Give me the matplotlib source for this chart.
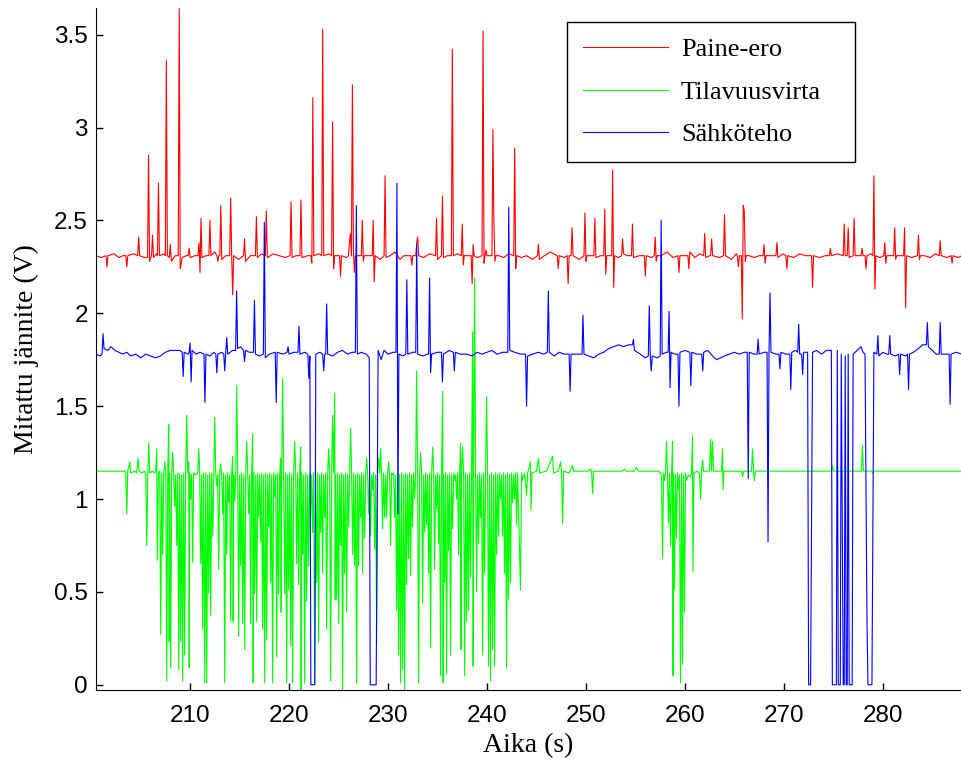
import matplotlib
matplotlib.use("Agg")

import matplotlib.pyplot as plt

paine_ero = [
    (200.5, 2.31), (201.0, 2.30), (201.5, 2.31), (201.6, 2.25), (201.7, 2.31), (202.3, 2.32), (202.8, 2.30),
    (203.2, 2.31), (203.5, 2.31), (203.6, 2.25), (203.7, 2.31), (204.3, 2.32), (204.7, 2.31), (204.8, 2.41),
    (204.9, 2.31), (205.4, 2.30), (205.7, 2.30), (205.8, 2.85), (205.9, 2.28), (206.1, 2.31), (206.2, 2.42),
    (206.3, 2.30), (206.6, 2.32), (206.7, 2.31), (206.8, 2.70), (206.9, 2.31), (207.4, 2.32), (207.5, 2.31),
    (207.6, 3.36), (207.7, 2.31), (207.9, 2.30), (208.0, 2.37), (208.1, 2.28), (208.5, 2.31), (208.8, 2.31),
    (208.9, 3.64), (209.0, 2.24), (209.2, 2.30), (209.6, 2.31), (209.8, 2.31), (209.9, 2.35), (210.0, 2.30),
    (210.5, 2.31), (210.8, 2.31), (210.9, 2.38), (211.0, 2.22), (211.1, 2.51), (211.2, 2.30), (211.6, 2.31),
    (211.9, 2.31), (212.0, 2.50), (212.1, 2.31), (212.5, 2.33), (212.7, 2.31), (212.8, 2.28), (212.9, 2.31),
    (213.0, 2.31), (213.1, 2.58), (213.2, 2.29), (213.6, 2.31), (214.0, 2.31), (214.1, 2.62), (214.2, 2.31),
    (214.3, 2.10), (214.4, 2.31), (214.9, 2.29), (215.4, 2.31), (215.5, 2.40), (215.6, 2.28), (216.1, 2.31),
    (216.6, 2.31), (216.7, 2.52), (216.8, 2.30), (217.2, 2.32), (217.6, 2.31), (217.7, 2.55), (217.8, 2.30),
    (218.4, 2.32), (219.0, 2.31), (219.6, 2.30), (220.1, 2.31), (220.2, 2.60), (220.3, 2.30), (220.7, 2.31),
    (221.1, 2.31), (221.2, 2.61), (221.3, 2.30), (221.9, 2.31), (222.2, 2.31), (222.3, 2.27), (222.4, 3.16),
    (222.5, 2.31), (223.0, 2.32), (223.3, 2.31), (223.4, 3.53), (223.5, 2.31), (224.0, 2.32), (224.3, 2.31),
    (224.4, 3.03), (224.5, 2.24), (224.6, 2.31), (224.8, 2.31), (225.1, 2.31), (225.2, 2.20), (225.3, 2.31),
    (225.8, 2.30), (226.0, 2.31), (226.1, 2.38), (226.2, 2.43), (226.3, 2.31), (226.4, 3.23), (226.5, 2.35),
    (226.6, 2.22), (226.7, 2.31), (227.3, 2.31), (227.4, 2.50), (227.5, 2.28), (227.6, 2.31), (228.0, 2.31),
    (228.4, 2.31), (228.5, 2.50), (228.6, 2.17), (228.7, 2.31), (229.2, 2.29), (229.6, 2.31), (229.7, 2.74),
    (229.8, 2.30), (230.2, 2.31), (230.7, 2.33), (231.2, 2.29), (231.6, 2.31), (232.3, 2.31), (232.4, 2.26),
    (232.5, 2.31), (232.8, 2.31), (232.9, 2.38), (233.0, 2.41), (233.1, 2.31), (233.6, 2.30), (234.2, 2.32),
    (234.8, 2.31), (234.9, 2.51), (235.0, 2.29), (235.4, 2.31), (235.5, 2.63), (235.6, 2.30), (236.0, 2.31),
    (236.4, 2.31), (236.5, 3.42), (236.6, 2.31), (237.0, 2.32), (237.4, 2.31), (237.5, 2.48), (237.6, 2.26),
    (237.7, 2.31), (238.0, 2.31), (238.4, 2.31), (238.5, 2.16), (238.6, 2.37), (238.7, 2.31), (239.0, 2.30),
    (239.5, 2.31), (239.6, 3.52), (239.7, 2.27), (239.8, 2.31), (239.9, 2.34), (240.0, 2.31), (240.2, 2.31),
    (240.5, 2.31), (240.6, 2.99), (240.7, 2.48), (240.8, 2.28), (240.9, 2.31), (241.2, 2.31), (241.7, 2.30),
    (242.2, 2.32), (242.7, 2.31), (242.8, 2.89), (242.9, 2.24), (243.0, 2.31), (243.5, 2.30), (244.0, 2.31),
    (244.6, 2.29), (245.1, 2.31), (245.2, 2.37), (245.3, 2.29), (245.8, 2.31), (246.4, 2.33), (247.1, 2.31),
    (247.2, 2.24), (247.3, 2.31), (247.8, 2.30), (248.1, 2.31), (248.2, 2.16), (248.3, 2.31), (248.5, 2.31),
    (248.6, 2.46), (248.7, 2.31), (249.3, 2.29), (249.8, 2.31), (249.9, 2.54), (250.0, 2.28), (250.1, 2.31),
    (250.4, 2.31), (250.8, 2.31), (250.9, 2.51), (251.0, 2.30), (251.5, 2.31), (251.8, 2.31), (251.9, 2.56),
    (252.0, 2.21), (252.1, 2.31), (252.6, 2.31), (252.7, 2.77), (252.8, 2.14), (252.9, 2.31), (253.3, 2.30),
    (253.6, 2.31), (253.7, 2.40), (253.8, 2.32), (254.2, 2.31), (254.6, 2.31), (254.7, 2.48), (254.8, 2.30),
    (255.4, 2.31), (255.9, 2.31), (256.0, 2.20), (256.1, 2.31), (256.6, 2.30), (256.9, 2.31), (257.0, 2.41),
    (257.1, 2.28), (257.2, 2.31), (257.6, 2.31), (258.2, 2.33), (258.8, 2.30), (259.3, 2.31), (259.4, 2.22),
    (259.5, 2.31), (259.9, 2.31), (260.3, 2.31), (260.4, 2.24), (260.5, 2.33), (261.0, 2.30), (261.5, 2.32),
    (261.9, 2.31), (262.0, 2.43), (262.1, 2.30), (262.5, 2.31), (262.6, 2.31), (262.7, 2.40), (262.8, 2.31),
    (263.5, 2.30), (263.9, 2.31), (264.0, 2.53), (264.1, 2.31), (264.7, 2.29), (265.2, 2.32), (265.3, 2.31),
    (265.4, 2.25), (265.5, 2.31), (265.7, 2.31), (265.8, 1.97), (265.9, 2.58), (266.0, 2.55), (266.1, 2.28),
    (266.2, 2.31), (266.5, 2.31), (267.0, 2.30), (267.5, 2.31), (267.9, 2.31), (268.0, 2.37), (268.1, 2.27),
    (268.2, 2.31), (268.6, 2.31), (269.2, 2.31), (269.3, 2.38), (269.4, 2.30), (269.9, 2.32), (270.2, 2.31),
    (270.3, 2.24), (270.4, 2.31), (271.0, 2.30), (271.6, 2.32), (272.2, 2.31), (272.8, 2.31), (272.9, 2.14),
    (273.0, 2.31), (273.6, 2.30), (274.2, 2.31), (274.6, 2.31), (274.7, 2.35), (274.8, 2.31), (275.4, 2.32),
    (276.0, 2.31), (276.1, 2.48), (276.2, 2.31), (276.4, 2.31), (276.5, 2.46), (276.6, 2.30), (277.0, 2.31),
    (277.1, 2.51), (277.2, 2.31), (277.8, 2.31), (277.9, 2.35), (278.0, 2.31), (278.2, 2.31), (278.3, 2.24),
    (278.4, 2.31), (278.8, 2.32), (279.0, 2.31), (279.1, 2.74), (279.2, 2.13), (279.3, 2.31), (279.7, 2.30),
    (280.1, 2.31), (280.2, 2.38), (280.3, 2.27), (280.4, 2.31), (280.7, 2.31), (281.1, 2.31), (281.2, 2.46),
    (281.3, 2.29), (281.4, 2.31), (281.7, 2.31), (282.1, 2.31), (282.2, 2.46), (282.3, 2.03), (282.4, 2.31),
    (282.9, 2.30), (283.5, 2.31), (283.6, 2.42), (283.7, 2.29), (283.8, 2.31), (284.2, 2.31), (284.8, 2.30),
    (285.3, 2.32), (285.7, 2.31), (285.8, 2.39), (285.9, 2.31), (286.5, 2.30), (286.9, 2.31), (287.0, 2.27),
    (287.1, 2.31), (287.6, 2.30), (288.0, 2.31),
]

tilavuusvirta = [
    (200.5, 1.15), (202.6, 1.15), (203.4, 1.15), (203.5, 1.14), (203.6, 0.92), (203.7, 1.15), (203.9, 1.20),
    (204.0, 1.14), (204.4, 1.15), (204.6, 1.14), (204.75, 1.22), (204.85, 1.15), (205.1, 1.14), (205.4, 1.15),
    (205.52, 1.13), (205.62, 0.75), (205.72, 1.14), (205.82, 1.30), (205.92, 1.14), (206.2, 1.15), (206.42, 1.14),
    (206.52, 1.15), (206.63, 1.27), (206.68, 0.67), (206.8, 1.14), (206.93, 1.15), (207.03, 0.27), (207.13, 1.14),
    (207.23, 0.70), (207.33, 1.14), (207.43, 1.20), (207.54, 1.14), (207.64, 0.02), (207.74, 1.14), (207.84, 1.40),
    (207.89, 0.23), (207.94, 1.14), (208.04, 0.09), (208.14, 1.15), (208.24, 1.25), (208.34, 1.14), (208.44, 0.96),
    (208.54, 1.13), (208.65, 0.75), (208.75, 1.14), (208.85, 0.08), (208.95, 1.14), (209.05, 0.23), (209.15, 1.13),
    (209.25, 0.02), (209.35, 1.14), (209.45, 0.16), (209.55, 1.14), (209.66, 1.45), (209.76, 1.14), (209.86, 1.20),
    (209.91, 0.09), (209.96, 1.14), (210.06, 1.00), (210.16, 1.13), (210.26, 0.66), (210.36, 1.14), (210.6, 1.13),
    (210.77, 1.14), (210.87, 1.27), (210.97, 1.14), (211.07, 0.65), (211.17, 1.13), (211.27, 0.30), (211.37, 1.14),
    (211.48, 0.01), (211.58, 1.14), (211.68, 0.01), (211.78, 1.13), (211.88, 0.49), (211.98, 1.14), (212.08, 0.37),
    (212.18, 1.14), (212.29, 0.80), (212.39, 1.13), (212.49, 1.44), (212.59, 1.14), (212.69, 1.07), (212.79, 1.13),
    (212.89, 0.62), (212.99, 1.14), (213.09, 1.19), (213.19, 1.13), (213.29, 0.92), (213.39, 1.14), (213.50, 0.01),
    (213.60, 1.13), (213.70, 0.70), (213.80, 1.14), (213.90, 0.98), (214.00, 1.13), (214.10, 0.34), (214.20, 1.14),
    (214.30, 1.23), (214.35, 0.34), (214.41, 1.13), (214.51, 0.99), (214.61, 1.14), (214.71, 1.61), (214.81, 1.14),
    (214.91, 0.26), (215.01, 1.13), (215.11, 0.64), (215.21, 1.14), (215.31, 0.33), (215.41, 1.13), (215.52, 0.19),
    (215.62, 1.14), (215.72, 1.31), (215.82, 1.14), (215.92, 0.92), (216.02, 1.13), (216.12, 0.33), (216.22, 1.14),
    (216.32, 1.35), (216.37, 0.01), (216.43, 1.14), (216.53, 0.49), (216.63, 1.13), (216.73, 0.34), (216.83, 1.14),
    (216.93, 0.90), (217.03, 1.13), (217.13, 0.77), (217.23, 1.14), (217.33, 0.30), (217.43, 1.13), (217.54, 0.01),
    (217.64, 1.14), (217.74, 0.24), (217.84, 1.13), (217.94, 0.85), (218.04, 1.14), (218.14, 0.55), (218.24, 1.13),
    (218.34, 0.01), (218.44, 1.14), (218.55, 1.01), (218.65, 1.13), (218.75, 0.15), (218.85, 1.14), (218.95, 0.49),
    (219.05, 1.13), (219.15, 1.22), (219.20, 0.39), (219.25, 1.14), (219.35, 1.65), (219.45, 1.13), (219.56, 0.49),
    (219.66, 1.14), (219.76, 0.01), (219.86, 1.13), (219.96, 0.51), (220.06, 1.14), (220.16, 0.21), (220.26, 1.13),
    (220.36, 0.01), (220.46, 1.14), (220.57, 1.31), (220.67, 1.13), (220.77, 0.65), (220.87, 1.14), (220.97, 0.54),
    (221.07, 1.13), (221.17, 1.28), (221.22, -0.04), (221.27, 1.14), (221.37, 0.70), (221.47, 1.13), (221.58, 0.01),
    (221.68, 1.14), (221.78, 0.45), (221.88, 1.13), (221.98, 0.64), (222.08, 1.14), (222.18, 0.90), (222.28, 1.13),
    (222.38, 0.82), (222.48, 1.14), (222.59, 0.01), (222.69, 1.13), (222.79, 0.55), (222.89, 1.14), (222.99, 0.23),
    (223.09, 1.13), (223.19, 0.82), (223.29, 1.14), (223.39, 0.60), (223.49, 1.13), (223.60, 0.90), (223.70, 1.14),
    (223.80, 0.30), (223.90, 1.13), (224.00, 1.27), (224.10, 1.14), (224.20, 0.02), (224.30, 1.13), (224.40, 1.45),
    (224.50, 1.14), (224.61, 1.57), (224.66, 0.46), (224.71, 1.13), (224.81, 0.46), (224.91, 1.14), (225.01, 0.33),
    (225.11, 1.13), (225.21, 0.75), (225.31, 1.14), (225.41, -0.04), (225.51, 1.13), (225.61, 0.60), (225.71, 1.14),
    (225.82, 0.39), (225.92, 1.13), (226.02, 0.85), (226.12, 1.14), (226.22, 1.38), (226.32, 1.13), (226.43, 0.70),
    (226.53, 1.14), (226.63, 0.64), (226.73, 1.13), (226.83, 0.01), (226.93, 1.14), (227.03, 0.64), (227.13, 1.13),
    (227.23, 0.90), (227.33, 1.14), (227.43, 0.60), (227.53, 1.13), (227.64, 0.79), (227.74, 1.14), (227.84, 1.22),
    (227.94, 1.13), (228.04, 0.92), (228.14, 1.14), (228.24, 0.80), (228.34, 1.13), (228.44, 1.05), (228.54, 1.14),
    (228.65, 0.73), (228.75, 1.13), (228.85, 0.21), (228.95, 1.14), (229.05, 1.22), (229.15, 1.14), (229.25, 1.27),
    (229.35, 1.13), (229.45, 0.84), (229.55, 1.14), (229.66, 0.90), (229.76, 1.13), (229.86, 0.90), (229.96, 1.14),
    (230.06, 1.20), (230.16, 1.13), (230.26, 0.75), (230.36, 1.14), (230.47, 1.13), (230.57, 1.14), (230.67, 0.90),
    (230.77, 1.13), (230.87, 0.40), (230.97, 1.14), (231.07, 0.16), (231.17, 1.13), (231.27, 0.01), (231.37, 1.14),
    (231.48, 0.08), (231.58, 1.13), (231.68, -0.03), (231.78, 1.14), (231.88, 0.54), (231.98, 1.13), (232.08, 0.68),
    (232.18, 1.14), (232.28, 0.59), (232.38, 1.13), (232.48, 0.85), (232.58, 1.14), (232.69, 1.00), (232.79, 1.13),
    (232.89, 1.69), (232.99, 1.14), (233.09, 0.01), (233.19, 1.13), (233.29, 1.25), (233.39, 1.14), (233.50, 0.44),
    (233.60, 1.13), (233.70, 0.82), (233.80, 1.14), (233.90, 0.86), (234.00, 1.13), (234.10, 0.60), (234.20, 1.14),
    (234.30, 0.20), (234.40, 1.13), (234.51, 1.28), (234.61, 1.14), (234.71, 0.62), (234.81, 1.13), (234.91, 0.95),
    (235.01, 1.14), (235.11, 0.76), (235.21, 1.13), (235.31, 0.05), (235.41, 1.14), (235.52, 1.58), (235.57, 0.01),
    (235.62, 1.13), (235.72, 0.55), (235.82, 1.14), (235.92, 0.06), (236.02, 1.13), (236.12, 0.72), (236.22, 1.14),
    (236.32, 0.16), (236.42, 1.13), (236.53, 0.84), (236.63, 1.14), (236.73, 1.10), (236.83, 1.13), (236.93, 1.00),
    (237.03, 1.14), (237.13, 0.70), (237.23, 1.13), (237.33, 1.30), (237.38, 0.19), (237.43, 1.14), (237.54, 1.28),
    (237.64, 1.13), (237.74, 0.05), (237.84, 1.14), (237.94, 0.34), (238.04, 1.13), (238.14, 0.40), (238.24, 1.14),
    (238.34, 0.58), (238.44, 1.13), (238.55, 1.90), (238.60, 0.10), (238.65, 1.14), (238.75, 2.19), (238.85, 1.14),
    (238.95, 0.50), (239.05, 1.13), (239.15, 0.76), (239.25, 1.14), (239.35, 0.90), (239.45, 1.13), (239.56, 0.16),
    (239.66, 1.14), (239.76, 0.60), (239.86, 1.13), (239.96, 1.55), (240.06, 1.14), (240.16, 0.10), (240.26, 1.13),
    (240.36, 0.02), (240.46, 1.14), (240.57, 0.19), (240.67, 1.13), (240.77, 0.10), (240.87, 1.14), (240.97, 0.70),
    (241.07, 1.13), (241.17, 0.80), (241.27, 1.14), (241.37, 1.00), (241.47, 1.13), (241.57, 0.80), (241.67, 1.14),
    (241.78, 0.60), (241.88, 1.13), (241.98, 0.09), (242.08, 1.14), (242.18, 0.46), (242.28, 1.13), (242.38, 0.55),
    (242.48, 1.14), (242.59, 0.98), (242.69, 1.13), (242.79, 1.00), (242.89, 1.14), (242.99, 0.86), (243.09, 1.14),
    (243.39, 0.51), (243.49, 1.14), (243.60, 1.10), (243.80, 1.14), (244.00, 1.02), (244.10, 1.14), (244.40, 1.20),
    (244.45, 0.94), (244.55, 1.14), (245.0, 1.15), (245.21, 1.22), (245.31, 1.14), (246.0, 1.15), (246.63, 1.23),
    (246.73, 1.14), (247.2, 1.15), (247.44, 1.20), (247.54, 1.14), (247.64, 0.87), (247.74, 1.15), (248.3, 1.14),
    (248.65, 1.18), (248.75, 1.15), (250.2, 1.15), (250.46, 1.16), (250.57, 1.15), (250.67, 1.03), (250.77, 1.15),
    (253.7, 1.15), (253.90, 1.16), (254.1, 1.15), (254.9, 1.15), (255.11, 1.17), (255.3, 1.15), (257.3, 1.15),
    (257.54, 1.14), (257.64, 1.13), (257.74, 0.68), (257.84, 1.14), (257.94, 1.10), (258.04, 1.14), (258.14, 1.31),
    (258.24, 1.13), (258.34, 0.87), (258.44, 1.14), (258.55, 0.75), (258.65, 1.13), (258.75, 1.31), (258.80, 0.05),
    (258.85, 1.14), (258.95, 0.51), (259.05, 1.13), (259.15, 0.79), (259.25, 1.14), (259.35, 1.05), (259.45, 1.13),
    (259.56, 0.01), (259.66, 1.14), (259.76, 0.11), (259.86, 1.13), (259.96, 0.39), (260.06, 1.14), (260.16, 1.10),
    (260.36, 1.13), (260.57, 1.12), (260.67, 1.14), (260.77, 1.34), (260.82, 0.61), (260.92, 1.14), (261.2, 1.15),
    (261.48, 1.14), (261.58, 1.00), (261.68, 1.14), (261.78, 1.21), (261.88, 1.15), (262.49, 1.15), (262.59, 1.32),
    (262.69, 1.15), (262.79, 1.31), (262.89, 1.15), (263.7, 1.15), (263.80, 1.27), (263.85, 1.05), (263.95, 1.15),
    (265.72, 1.15), (265.82, 1.12), (265.92, 1.15), (266.73, 1.15), (266.83, 1.27), (266.93, 1.15), (267.03, 1.10),
    (267.13, 1.15), (274.81, 1.15), (274.91, 1.18), (275.01, 1.15), (277.84, 1.15), (277.94, 1.29), (278.04, 1.15),
    (278.85, 1.15), (278.95, 1.14), (279.05, 1.15), (288.0, 1.15),
]

sahkoteho = [
    (200.5, 1.78), (200.9, 1.77), (201.1, 1.78), (201.2, 1.89), (201.3, 1.81), (201.7, 1.80), (202.0, 1.82),
    (202.4, 1.80), (202.8, 1.79), (203.2, 1.78), (203.6, 1.79), (204.0, 1.77), (204.5, 1.78), (205.0, 1.76),
    (205.5, 1.78), (206.0, 1.77), (206.5, 1.76), (207.0, 1.77), (207.5, 1.79), (208.0, 1.80), (208.5, 1.80),
    (209.0, 1.80), (209.2, 1.79), (209.3, 1.66), (209.4, 1.79), (209.8, 1.78), (209.9, 1.79), (210.0, 1.84),
    (210.1, 1.63), (210.2, 1.80), (210.6, 1.78), (211.0, 1.79), (211.4, 1.78), (211.5, 1.52), (211.6, 1.78),
    (212.0, 1.77), (212.4, 1.79), (212.6, 1.78), (212.7, 1.68), (212.8, 1.78), (213.2, 1.79), (213.4, 1.78),
    (213.5, 1.69), (213.6, 1.79), (213.7, 1.87), (213.8, 1.78), (214.3, 1.80), (214.6, 1.80), (214.7, 2.12),
    (214.8, 1.81), (215.1, 1.82), (215.4, 1.80), (215.5, 1.74), (215.6, 1.80), (216.0, 1.79), (216.4, 1.79),
    (216.5, 2.07), (216.6, 1.78), (217.0, 1.77), (217.4, 1.78), (217.5, 2.49), (217.6, 1.76), (218.0, 1.78),
    (218.6, 1.79), (218.7, 1.52), (218.8, 1.79), (219.4, 1.78), (219.8, 1.79), (219.9, 1.82), (220.0, 1.78),
    (220.5, 1.79), (220.9, 1.79), (221.0, 1.93), (221.1, 1.78), (221.6, 1.79), (221.9, 1.78), (222.0, 1.65),
    (222.1, 1.77), (222.2, 0.00), (222.6, 0.00), (222.7, 1.78), (223.1, 1.79), (223.4, 1.78), (223.5, 1.69),
    (223.6, 1.78), (223.7, 1.78), (223.8, 2.05), (223.9, 1.78), (224.4, 1.77), (224.9, 1.79), (225.4, 1.80),
    (225.9, 1.78), (226.4, 1.79), (226.7, 1.79), (226.8, 2.58), (226.9, 1.78), (227.3, 1.79), (227.8, 1.78),
    (228.1, 1.76), (228.2, 0.00), (228.8, 0.00), (229.0, 1.80), (229.3, 1.75), (229.6, 1.80), (230.0, 1.78),
    (230.5, 1.79), (230.8, 1.79), (230.9, 2.70), (231.0, 0.92), (231.1, 1.78), (231.5, 1.77), (231.8, 1.78),
    (231.9, 2.18), (232.0, 1.78), (232.5, 1.79), (232.8, 1.79), (232.9, 2.37), (233.0, 1.78), (233.5, 1.77),
    (234.0, 1.78), (234.1, 1.78), (234.2, 2.19), (234.3, 1.68), (234.4, 1.78), (235.0, 1.79), (235.4, 1.79),
    (235.5, 1.63), (235.6, 1.78), (236.2, 1.80), (236.6, 1.79), (236.7, 1.69), (236.8, 1.79), (237.3, 1.78),
    (237.9, 1.78), (238.5, 1.77), (239.0, 1.79), (239.5, 1.78), (240.0, 1.79), (240.5, 1.80), (241.0, 1.78),
    (241.6, 1.79), (242.1, 1.79), (242.2, 2.57), (242.3, 1.80), (242.8, 1.79), (243.4, 1.78), (243.9, 1.78),
    (244.0, 1.50), (244.1, 1.77), (244.6, 1.78), (245.2, 1.79), (245.7, 1.78), (246.1, 1.79), (246.2, 2.12),
    (246.3, 1.79), (246.8, 1.77), (247.3, 1.79), (247.8, 1.78), (248.3, 1.78), (248.4, 1.58), (248.5, 1.78),
    (249.0, 1.78), (249.6, 1.78), (249.7, 1.99), (249.8, 1.78), (250.3, 1.77), (250.8, 1.76), (251.3, 1.78),
    (251.8, 1.79), (252.3, 1.81), (252.8, 1.82), (253.3, 1.83), (253.8, 1.82), (254.3, 1.83), (254.7, 1.83),
    (254.8, 1.86), (254.9, 1.80), (255.5, 1.78), (256.0, 1.76), (256.3, 1.77), (256.4, 2.04), (256.5, 1.77),
    (256.6, 1.69), (256.7, 1.77), (257.2, 1.76), (257.5, 1.77), (257.6, 2.50), (257.7, 1.78), (258.1, 1.79),
    (258.3, 1.79), (258.4, 2.01), (258.5, 1.60), (258.6, 1.79), (259.0, 1.78), (259.3, 1.78), (259.4, 1.50),
    (259.5, 1.79), (260.0, 1.80), (260.5, 1.79), (260.6, 1.61), (260.7, 1.79), (261.2, 1.78), (261.7, 1.78),
    (261.8, 1.69), (261.9, 1.79), (262.3, 1.80), (262.8, 1.77), (263.2, 1.75), (263.6, 1.76), (264.0, 1.77),
    (264.5, 1.78), (265.0, 1.79), (265.5, 1.78), (266.0, 1.79), (266.3, 1.79), (266.4, 1.11), (266.5, 1.79),
    (267.0, 1.78), (267.3, 1.78), (267.4, 1.86), (267.5, 1.78), (268.0, 1.79), (268.3, 1.79), (268.4, 0.77),
    (268.5, 1.79), (268.6, 2.11), (268.7, 1.79), (269.2, 1.78), (269.5, 1.78), (269.6, 1.70), (269.7, 1.79),
    (270.2, 1.78), (270.6, 1.78), (270.7, 1.59), (270.8, 1.79), (271.2, 1.80), (271.4, 1.79), (271.5, 1.94),
    (271.6, 1.78), (271.8, 1.78), (271.9, 1.67), (272.0, 1.79), (272.4, 1.79), (272.5, 0.00), (272.7, 0.00),
    (272.9, 1.79), (273.3, 1.80), (273.8, 1.78), (274.3, 1.80), (274.8, 1.80), (274.9, 0.00), (275.3, 0.00),
    (275.4, 1.80), (275.5, 0.00), (275.7, 0.00), (275.8, 1.78), (276.0, 0.00), (276.1, 0.00), (276.2, 1.77),
    (276.3, 0.00), (276.4, 0.00), (276.5, 1.78), (276.6, 0.00), (276.9, 0.00), (277.0, 1.78), (277.4, 1.80),
    (277.8, 1.82), (278.0, 1.79), (278.2, 1.78), (278.4, 0.34), (278.5, 0.00), (278.9, 0.00), (279.1, 1.79),
    (279.4, 1.78), (279.5, 1.88), (279.6, 1.77), (280.0, 1.79), (280.4, 1.78), (280.6, 1.78), (280.7, 1.88),
    (280.8, 1.78), (281.3, 1.77), (281.6, 1.78), (281.7, 1.67), (281.8, 1.78), (282.3, 1.77), (282.5, 1.78),
    (282.6, 1.59), (282.7, 1.78), (283.1, 1.79), (283.6, 1.81), (284.0, 1.83), (284.4, 1.83), (284.5, 1.95),
    (284.6, 1.82), (285.0, 1.80), (285.4, 1.78), (285.7, 1.78), (285.8, 1.95), (285.9, 1.78), (286.3, 1.78),
    (286.7, 1.78), (286.8, 1.51), (286.9, 1.78), (287.4, 1.79), (288.0, 1.78),
]

series_names = ["Paine-ero", "Tilavuusvirta", "Sähköteho"]
x_ticks = [210, 220, 230, 240, 250, 260, 270, 280]
y_ticks = [0, 0.5, 1, 1.5, 2, 2.5, 3, 3.5]

fig = plt.figure(figsize=(9.61, 7.69), dpi=100)
ax = fig.add_axes([0.1, 0.103, 0.9, 0.887])

for data, color, name in zip([paine_ero, tilavuusvirta, sahkoteho],
                             ["#ff0000", "#00ff00", "#0000ff"], series_names):
    t = [p[0] for p in data]
    v = [p[1] for p in data]
    ax.plot(t, v, color=color, linewidth=0.8, label=name)

ax.set_xlim(200.5, 287.9)
ax.set_ylim(-0.027, 3.645)
ax.set_xticks(x_ticks)
ax.set_yticks(y_ticks)
ax.set_yticklabels([f"{y:g}" for y in y_ticks])

ax.spines["top"].set_visible(False)
ax.spines["right"].set_visible(False)
ax.tick_params(direction="in", length=5, width=1, labelsize=17.5,
               labelfontfamily="Liberation Sans")
ax.tick_params(axis="x", pad=11)
ax.tick_params(axis="y", pad=6)

serif = {"family": "Liberation Serif", "size": 20}
ax.set_xlabel("Aika (s)", fontdict=serif, labelpad=4)
ax.set_ylabel("Mitattu jännite (V)", fontdict=serif, labelpad=11)

leg = ax.legend(loc="upper left", bbox_to_anchor=(0.545, 0.774, 0.332, 0.205),
                mode="expand", borderaxespad=0,
                prop={"family": "Liberation Serif", "size": 19},
                handlelength=3.2, handletextpad=0.5, labelspacing=0.72,
                borderpad=0.6, fancybox=False, framealpha=1, edgecolor="black")
leg.get_frame().set_linewidth(1.0)

fig.savefig("out.png", dpi=100)
